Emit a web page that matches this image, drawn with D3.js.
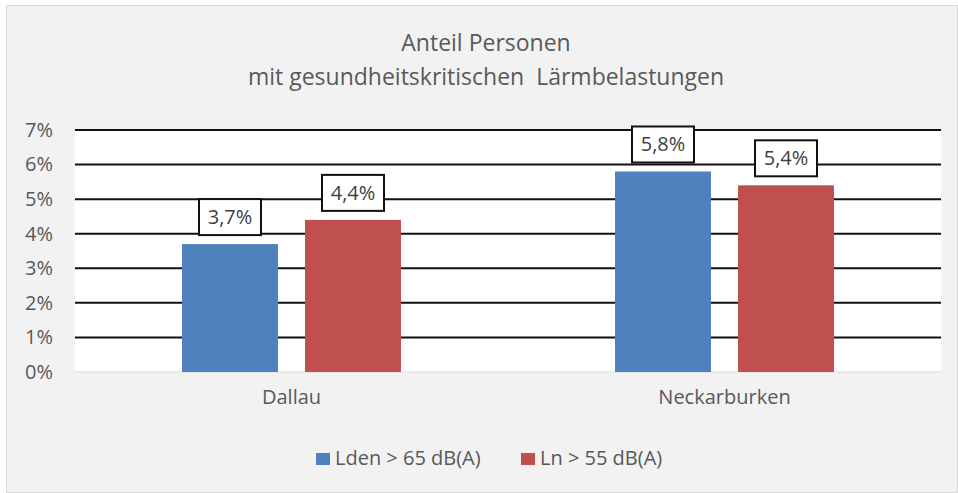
<!DOCTYPE html>
<html>
<head>
<meta charset="utf-8">
<script src="https://cdn.jsdelivr.net/npm/d3@7"></script>
<style>
  body { margin: 0; background: #fff; }
  svg text { font-family: "Open Sans", sans-serif; fill: #595959; }
</style>
</head>
<body>
<div id="chart"></div>
<script>
// data
var categories = ["Dallau", "Neckarburken"];
var seriesNames = ["Lden > 65 dB(A)", "Ln > 55 dB(A)"];
var seriesColors = ["#4f81bd", "#c0504d"];
var lden = [3.7, 5.8];
var ln = [4.4, 5.4];
var yTicks = [0, 1, 2, 3, 4, 5, 6, 7];
var titleLines = ["Anteil Personen", "mit gesundheitskritischen  Lärmbelastungen"];

var W = 958, H = 493;
var plot = { left: 75, right: 941, top: 130, bottom: 372 };

var svg = d3.select("#chart").append("svg")
  .attr("width", W).attr("height", H);

// outer frame
svg.append("rect")
  .attr("x", 6.5).attr("y", 5.5)
  .attr("width", W - 7).attr("height", H - 6)
  .attr("fill", "#f2f2f2").attr("stroke", "#d9d9d9");

// plot area
svg.append("rect")
  .attr("x", plot.left).attr("y", plot.top)
  .attr("width", plot.right - plot.left).attr("height", plot.bottom - plot.top)
  .attr("fill", "#fff");

var x0 = d3.scaleBand().domain(categories).range([plot.left, plot.right]);
var x1 = d3.scaleBand().domain([0, 1]).range([0, x0.bandwidth()]).paddingInner(0.22).paddingOuter(0.87);
var y = d3.scaleLinear().domain([0, 7]).range([plot.bottom, plot.top]);

// title
svg.append("text")
  .attr("x", 486).attr("y", 51)
  .attr("text-anchor", "middle").style("font-size", "23px")
  .style("white-space", "pre")
  .selectAll("tspan").data(titleLines).enter().append("tspan")
  .attr("x", 486).attr("dy", function(d, i){ return i ? 34 : 0; })
  .text(function(d){ return d; });

// gridlines
svg.append("g").selectAll("line").data(yTicks).enter().append("line")
  .attr("x1", plot.left).attr("x2", plot.right)
  .attr("y1", function(d){ return y(d); }).attr("y2", function(d){ return y(d); })
  .attr("stroke", function(d){ return d === 0 ? "#d9d9d9" : "#111"; })
  .attr("stroke-width", function(d){ return d === 0 ? 1 : 2; });

// y axis labels
var yAxis = d3.axisLeft(y).tickValues(yTicks).tickSize(0).tickPadding(0)
  .tickFormat(function(d){ return d + "%"; });
var ya = svg.append("g").attr("transform", "translate(53,0)").call(yAxis);
ya.select(".domain").remove();
ya.selectAll("text").style("font-size", "20px").attr("font-family", null).attr("fill", null);

// x axis labels
var xAxis = d3.axisBottom(x0).tickSize(0).tickPadding(0);
var xa = svg.append("g").attr("transform", "translate(0,390)").call(xAxis);
xa.select(".domain").remove();
xa.selectAll("text").style("font-size", "20px").attr("font-family", null).attr("fill", null);

// bars
var values = [lden, ln];
var rows = [];
categories.forEach(function(c, ci){
  values.forEach(function(v, si){ rows.push({ cat: c, s: si, v: v[ci] }); });
});

svg.append("g").selectAll("rect").data(rows).enter().append("rect")
  .attr("x", function(d){ return x0(d.cat) + x1(d.s); })
  .attr("width", x1.bandwidth())
  .attr("y", function(d){ return y(d.v); })
  .attr("height", function(d){ return y(0) - y(d.v); })
  .attr("fill", function(d){ return seriesColors[d.s]; });

// data labels
var fmt = function(v){ return v.toFixed(1).replace(".", ",") + "%"; };
var lab = svg.append("g").selectAll("g").data(rows).enter().append("g")
  .attr("transform", function(d){
    return "translate(" + (x0(d.cat) + x1(d.s) + x1.bandwidth() / 2) + "," + (y(d.v) - 27) + ")";
  });
lab.append("rect")
  .attr("x", -31).attr("y", -18).attr("width", 62).attr("height", 36)
  .attr("fill", "#fff").attr("stroke", "#111").attr("stroke-width", 2);
lab.append("text")
  .attr("text-anchor", "middle").attr("dy", "0.35em")
  .style("font-size", "20px").style("fill", "#404040")
  .text(function(d){ return fmt(d.v); });

// legend
var legX = [316, 521];
var leg = svg.append("g").selectAll("g").data(seriesNames).enter().append("g")
  .attr("transform", function(d, i){ return "translate(" + legX[i] + ",453)"; });
leg.append("rect").attr("width", 14).attr("height", 12)
  .attr("fill", function(d, i){ return seriesColors[i]; });
leg.append("text").attr("x", 19).attr("y", 12)
  .style("font-size", "20px")
  .text(function(d){ return d; });
</script>
</body>
</html>
